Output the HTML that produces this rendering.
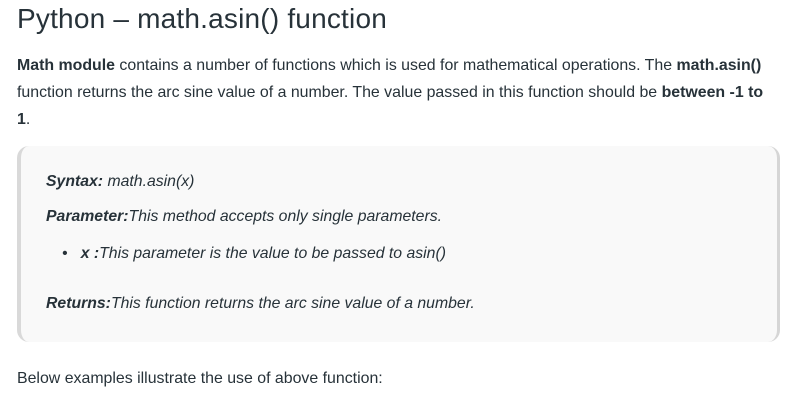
<!DOCTYPE html>
<html><head><style>
body{margin:0;width:794px;height:414px;background:#fff;font-family:"Liberation Sans",sans-serif;color:#273239;position:relative;overflow:hidden}
.a{position:absolute;white-space:nowrap}
h1{position:absolute;left:17px;top:3px;margin:0;font-weight:normal;font-size:28px;color:#273239;letter-spacing:0.2px}
.p{left:17px;font-size:15.9px;color:#273239}
.box{position:absolute;left:17px;top:146px;width:756px;height:196px;background:#f9f9f9;border-left:4px solid #d9d9d9;border-right:3px solid #d6d6d6;border-radius:12px}
.i{font-style:italic;font-size:15.8px;color:#273239}
</style></head><body>
<h1>Python – math.asin() function</h1>
<div class="a p" style="top:57px"><b>Math module</b> contains a number of functions which is used for mathematical operations. The <b>math.asin()</b></div>
<div class="a p" style="top:84px">function returns the arc sine value of a number. The value passed in this function should be <b>between -1 to</b></div>
<div class="a p" style="top:111px"><b>1</b>.</div>
<div class="box"></div>
<div class="a i" style="left:46px;top:173px"><b>Syntax:</b> math.asin(x)</div>
<div class="a i" style="left:46px;top:208px"><b>Parameter:</b>This method accepts only single parameters.</div>
<div class="a i" style="left:62px;top:245px">•&nbsp;&nbsp;&nbsp;<b>x :</b>This parameter is the value to be passed to asin()</div>
<div class="a i" style="left:46px;top:295px"><b>Returns:</b>This function returns the arc sine value of a number.</div>
<div class="a p" style="top:370px">Below examples illustrate the use of above function:</div>
</body></html>
